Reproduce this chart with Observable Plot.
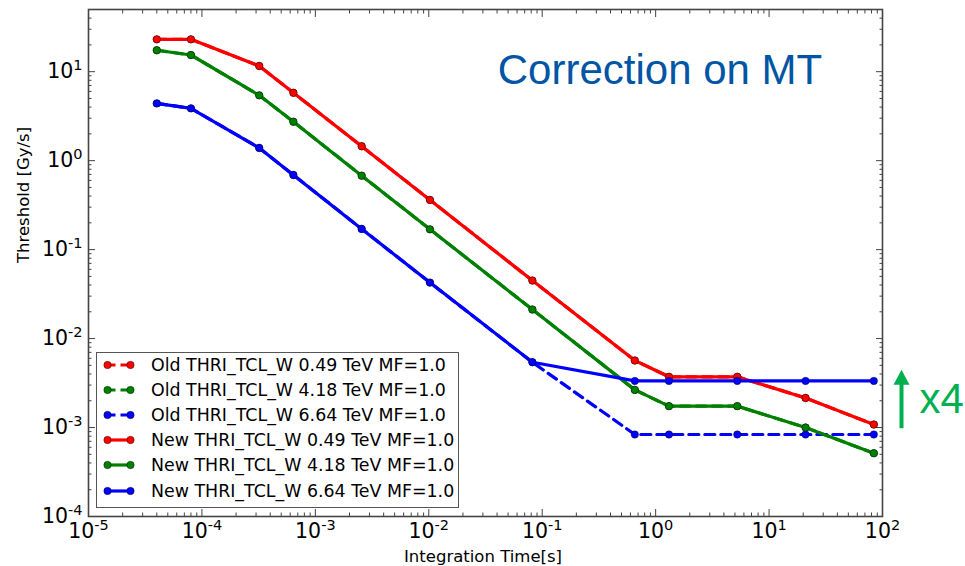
<!DOCTYPE html>
<html>
<head>
<meta charset="utf-8">
<script src="https://cdn.jsdelivr.net/npm/d3@7"></script>
<script src="https://cdn.jsdelivr.net/npm/@observablehq/plot@0.6"></script>
<style>
  body { margin: 0; background: #fff; }
  #wrap { position: relative; width: 965px; height: 566px; overflow: hidden; }
  #legend { position: absolute; left: 96px; top: 352px; width: 361px; height: 154px;
            border: 1.5px solid #555; background: #fff; font-family: "DejaVu Sans", sans-serif; font-size: 17.4px; color: #000; }
  .row { position: absolute; left: 0; height: 20px; width: 360px; }
  .row svg { position: absolute; left: 0; top: 0; }
  .row span { position: absolute; left: 54px; top: 0; line-height: 20px; white-space: nowrap; }
</style>
</head>
<body>
<div id="wrap"></div>
<script>
// ---- data ----
const times = [4e-5, 8e-5, 3.2e-4, 6.4e-4, 2.56e-3, 1.024e-2, 8.192e-2, 0.65536, 1.31072, 5.24288, 20.97152, 83.88608];
const red049   = [23.1, 23.1, 11.6, 5.8, 1.45, 0.362, 0.0449, 5.67e-3, 3.72e-3, 3.72e-3, 2.15e-3, 1.08e-3];
const green418 = [17.4, 15.4, 5.42, 2.74, 0.678, 0.169, 0.0212, 2.65e-3, 1.74e-3, 1.74e-3, 1.0e-3, 5.14e-4];
const blueOld664 = [4.4, 3.87, 1.39, 0.69, 0.171, 0.0426, 5.42e-3, 8.35e-4, 8.35e-4, 8.35e-4, 8.35e-4, 8.35e-4];
const blueNew664 = [4.4, 3.87, 1.39, 0.69, 0.171, 0.0426, 5.42e-3, 3.34e-3, 3.34e-3, 3.34e-3, 3.34e-3, 3.34e-3];
const seriesNames = [
  "Old THRI_TCL_W 0.49 TeV MF=1.0",
  "Old THRI_TCL_W 4.18 TeV MF=1.0",
  "Old THRI_TCL_W 6.64 TeV MF=1.0",
  "New THRI_TCL_W 0.49 TeV MF=1.0",
  "New THRI_TCL_W 4.18 TeV MF=1.0",
  "New THRI_TCL_W 6.64 TeV MF=1.0"
];
const seriesValues = [red049, green418, blueOld664, red049, green418, blueNew664];
const seriesColors = ["#ff0000", "#008000", "#0000ff", "#ff0000", "#008000", "#0000ff"];
const seriesDashed = [true, true, true, false, false, false];
const xMajor = [1e-5, 1e-4, 1e-3, 1e-2, 1e-1, 1e0, 1e1, 1e2];
const yMajor = [1e-4, 1e-3, 1e-2, 1e-1, 1e0, 1e1];
const titleText = "Correction on MT";
const factorText = "x4";
const xLabel = "Integration Time[s]";
const yLabel = "Threshold [Gy/s]";

// ---- helpers ----
const mult = [2, 3, 4, 5, 6, 7, 8, 9];
const xMinor = xMajor.slice(0, -1).flatMap(m => mult.map(k => k * m));
const yMinor = yMajor.flatMap(m => mult.map(k => k * m)).filter(v => v <= 50);
const fmt = d => `10^${Math.round(Math.log10(d))}`;
const tickColor = "#444";

const marks = [];
seriesNames.forEach((name, s) => {
  const data = times.map((t, i) => ({t, v: seriesValues[s][i]}));
  marks.push(Plot.line(data, {x: "t", y: "v", stroke: seriesColors[s], strokeWidth: 3.2,
    strokeDasharray: seriesDashed[s] ? "10,6" : null}));
  marks.push(Plot.dot(data, {x: "t", y: "v", r: 3.7, fill: seriesColors[s], stroke: "#000", strokeWidth: 0.7, strokeOpacity: 0.6}));
});

const filledArrow = {
  draw(ctx, l) {
    const w = 2, hw = 8, hh = 15;
    ctx.moveTo(-w, 0); ctx.lineTo(-w, -l + hh); ctx.lineTo(-hw, -l + hh); ctx.lineTo(0, -l);
    ctx.lineTo(hw, -l + hh); ctx.lineTo(w, -l + hh); ctx.lineTo(w, 0); ctx.closePath();
  }
};

const chart = Plot.plot({
  width: 965, height: 566,
  marginLeft: 88, marginRight: 83, marginTop: 9, marginBottom: 50,
  style: {fontFamily: "DejaVu Sans, sans-serif", fontSize: "20px", color: "#000", background: "#fff"},
  x: {type: "log", domain: [1e-5, 1e2]},
  y: {type: "log", domain: [1e-4, 50]},
  marks: [
    // inward ticks on four sides
    Plot.axisX({ticks: xMajor, anchor: "bottom", tickSize: -7, fill: "none", stroke: tickColor, label: null}),
    Plot.axisX({ticks: xMinor, anchor: "bottom", tickSize: -3.5, fill: "none", stroke: tickColor, label: null}),
    Plot.axisX({ticks: xMajor, anchor: "top", tickSize: -7, fill: "none", stroke: tickColor, label: null}),
    Plot.axisX({ticks: xMinor, anchor: "top", tickSize: -3.5, fill: "none", stroke: tickColor, label: null}),
    Plot.axisY({ticks: yMajor, anchor: "left", tickSize: -7, fill: "none", stroke: tickColor, label: null}),
    Plot.axisY({ticks: yMinor, anchor: "left", tickSize: -3.5, fill: "none", stroke: tickColor, label: null}),
    Plot.axisY({ticks: yMajor, anchor: "right", tickSize: -7, fill: "none", stroke: tickColor, label: null}),
    Plot.axisY({ticks: yMinor, anchor: "right", tickSize: -3.5, fill: "none", stroke: tickColor, label: null}),
    // tick labels
    Plot.axisX({ticks: xMajor, anchor: "bottom", tickSize: 0, tickPadding: 7, tickFormat: fmt, fontSize: 20.5, label: null}),
    Plot.axisY({ticks: yMajor, anchor: "left", tickSize: 0, tickPadding: 6, tickFormat: fmt, fontSize: 20.5, label: null}),
    ...marks,
    Plot.frame({stroke: "#444", strokeWidth: 1.6}),
    // axis titles
    Plot.text([xLabel], {frameAnchor: "bottom", dx: -2.5, dy: 45.5, lineAnchor: "bottom", fontSize: 16.5, fill: "#000"}),
    Plot.text([yLabel], {frameAnchor: "left", dx: -60, rotate: -90, lineAnchor: "bottom", fontSize: 16.5, fill: "#000"}),
    // annotations
    Plot.text([titleText], {frameAnchor: "top-right", dx: -60.3, dy: 44.3, textAnchor: "end", lineAnchor: "top",
      fontSize: 42, fontFamily: "Liberation Sans, Arial, sans-serif", fill: "#0055a4"}),
    Plot.text([factorText], {frameAnchor: "top-right", dx: 37, dy: 403.7, textAnchor: "start", lineAnchor: "bottom",
      fontSize: 42, fontFamily: "Liberation Sans, Arial, sans-serif", fill: "#00b050"}),
    Plot.vector([0], {frameAnchor: "top-right", dx: 19, dy: 418.7, length: 58.4, rotate: 0, anchor: "start",
      shape: filledArrow, fill: "#00b050", stroke: "none"})
  ]
});

// superscript exponents like matplotlib mathtext
d3.select(chart).selectAll('g[aria-label="x-axis tick label"] text, g[aria-label="y-axis tick label"] text').each(function () {
  const m = /^10\^(.*)$/.exec(this.textContent);
  if (!m) return;
  const t = d3.select(this);
  t.text(null);
  t.append("tspan").text("10");
  t.append("tspan").attr("dy", "-8").attr("font-size", "14.5").text(m[1]);
});

const wrap = document.getElementById("wrap");
wrap.appendChild(chart);

// legend (inside the axes, lower left)
const legend = document.createElement("div");
legend.id = "legend";
seriesNames.forEach((name, s) => {
  const row = document.createElement("div");
  row.className = "row";
  row.style.top = (13 + 25.2 * s - 10 - 1.5) + "px";
  const col = seriesColors[s];
  row.innerHTML =
    `<svg width="50" height="20"><line x1="10.5" y1="10" x2="33.5" y2="10" stroke="${col}" stroke-width="3.2" ${seriesDashed[s] ? 'stroke-dasharray="8,5"' : ''}/>` +
    `<circle cx="10.5" cy="10" r="3.7" fill="${col}" stroke="#000" stroke-width="0.7" stroke-opacity="0.6"/>` +
    `<circle cx="33.5" cy="10" r="3.7" fill="${col}" stroke="#000" stroke-width="0.7" stroke-opacity="0.6"/></svg>` +
    `<span></span>`;
  row.querySelector("span").textContent = name;
  legend.appendChild(row);
});
wrap.appendChild(legend);
</script>
</body>
</html>
